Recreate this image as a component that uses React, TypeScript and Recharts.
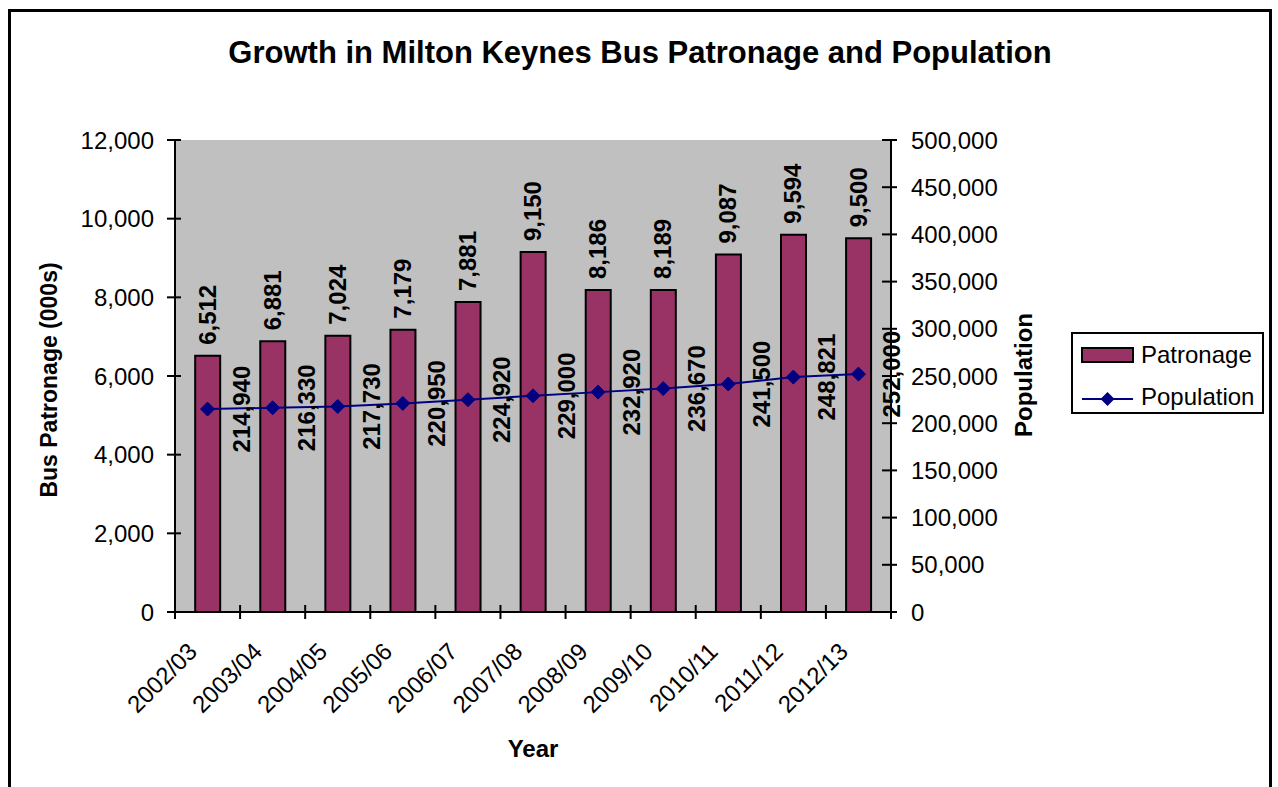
import {
  ComposedChart,
  Bar,
  Line,
  XAxis,
  YAxis,
  CartesianGrid,
  LabelList,
  Legend,
} from 'recharts'

const years = [
  '2002/03', '2003/04', '2004/05', '2005/06', '2006/07', '2007/08',
  '2008/09', '2009/10', '2010/11', '2011/12', '2012/13',
]
const patronage = [6512, 6881, 7024, 7179, 7881, 9150, 8186, 8189, 9087, 9594, 9500]
const population = [
  214940, 216330, 217730, 220950, 224920, 229000,
  232920, 236670, 241500, 248821, 252000,
]
const patronageTicks = [0, 2000, 4000, 6000, 8000, 10000, 12000]
const populationTicks = [
  0, 50000, 100000, 150000, 200000, 250000, 300000, 350000, 400000, 450000, 500000,
]

const chartData = years.map((year, i) => ({
  year,
  patronage: patronage[i],
  population: population[i],
}))

const FONT = '"Liberation Sans", Arial, Helvetica, sans-serif'
const BAR_COLOR = '#993366'
const LINE_COLOR = '#000080'
const fmt = (v: number) => v.toLocaleString('en-US')

// half a category width (plot 175..891, 11 categories)
const HALF_BAND = 716 / 22

const XTick = (props: any) => {
  const { x, y, payload, index } = props
  return (
    <g>
      <line x1={x - HALF_BAND} x2={x - HALF_BAND} y1={y - 15} y2={y - 1} stroke="#000" strokeWidth={2} />
      {index === years.length - 1 && (
        <line x1={x + HALF_BAND} x2={x + HALF_BAND} y1={y - 15} y2={y - 1} stroke="#000" strokeWidth={2} />
      )}
      <text
        transform={`translate(${x - 9}, ${y + 33}) rotate(-45)`}
        textAnchor="end"
        fontSize={24}
        fontFamily={FONT}
        fill="#000"
      >
        {payload.value}
      </text>
    </g>
  )
}

const LeftTick = (props: any) => {
  const { x, y, payload } = props
  return (
    <g>
      <line x1={x + 13} x2={x + 27} y1={y} y2={y} stroke="#000" strokeWidth={2} />
      <text x={x} y={y} dy="0.355em" textAnchor="end" fontSize={24} fontFamily={FONT} fill="#000">
        {fmt(payload.value)}
      </text>
    </g>
  )
}

const RightTick = (props: any) => {
  const { x, y, payload } = props
  return (
    <g>
      <line x1={x - 29} x2={x - 14} y1={y} y2={y} stroke="#000" strokeWidth={2} />
      <text x={x} y={y} dy="0.355em" textAnchor="start" fontSize={24} fontFamily={FONT} fill="#000">
        {fmt(payload.value)}
      </text>
    </g>
  )
}

const BarValueLabel = (props: any) => {
  const { x, y, width, value } = props
  return (
    <text
      transform={`translate(${x + width / 2 + 8}, ${y - 11}) rotate(-90)`}
      textAnchor="start"
      fontSize={24}
      fontWeight="bold"
      fontFamily={FONT}
      fill="#000"
    >
      {fmt(value)}
    </text>
  )
}

const LineValueLabel = (props: any) => {
  const { x, y, value } = props
  return (
    <text
      transform={`translate(${x + 42}, ${y}) rotate(-90)`}
      textAnchor="middle"
      fontSize={24}
      fontWeight="bold"
      fontFamily={FONT}
      fill="#000"
    >
      {fmt(value)}
    </text>
  )
}

const Diamond = (props: any) => {
  const { cx, cy, index } = props
  const s = 7
  return (
    <polygon
      key={`d-${index}`}
      points={`${cx},${cy - s} ${cx + s},${cy} ${cx},${cy + s} ${cx - s},${cy}`}
      fill={LINE_COLOR}
      stroke={LINE_COLOR}
    />
  )
}

const LegendBox = () => (
  <div
    style={{
      width: 193,
      height: 82,
      border: '2px solid #000',
      boxSizing: 'border-box',
      background: '#fff',
      position: 'relative',
    }}
  >
    <svg width={189} height={78} style={{ position: 'absolute', left: 0, top: 0 }}>
      <rect x={9} y={14} width={51} height={14} fill={BAR_COLOR} stroke="#000" strokeWidth={2} />
      <text x={68} y={29} fontSize={24} fontFamily={FONT} fill="#000">Patronage</text>
      <line x1={9} x2={60} y1={65} y2={65} stroke={LINE_COLOR} strokeWidth={2} />
      <polygon points="34.5,58 41.5,65 34.5,72 27.5,65" fill={LINE_COLOR} />
      <text x={68} y={71} fontSize={24} fontFamily={FONT} fill="#000">Population</text>
    </svg>
  </div>
)

export default function App() {
  return (
    <div style={{ position: 'relative', width: 1278, height: 787, overflow: 'hidden', background: '#fff' }}>
      <style>{'body { margin: 0; }'}</style>
      <div
        style={{
          position: 'absolute',
          left: 8,
          top: 9,
          width: 1264,
          height: 900,
          border: '3px solid #000',
          boxSizing: 'border-box',
        }}
      />
      <ComposedChart
        width={1278}
        height={787}
        data={chartData}
        margin={{ top: 140, right: 267, left: 85, bottom: 65 }}
        barCategoryGap="31%"
        style={{ position: 'absolute', left: 0, top: 0 }}
      >
        <CartesianGrid fill="#c0c0c0" stroke="none" horizontal={false} vertical={false} />
        <XAxis
          dataKey="year"
          height={110}
          interval={0}
          tickLine={false}
          tickSize={6}
          tickMargin={2}
          axisLine={{ stroke: '#000', strokeWidth: 2 }}
          tick={<XTick />}
        />
        <YAxis
          yAxisId="left"
          width={90}
          domain={[0, 12000]}
          ticks={patronageTicks}
          interval={0}
          tickLine={false}
          tickSize={6}
          tickMargin={15}
          axisLine={{ stroke: '#000', strokeWidth: 2 }}
          tick={<LeftTick />}
        />
        <YAxis
          yAxisId="right"
          orientation="right"
          width={120}
          domain={[0, 500000]}
          ticks={populationTicks}
          interval={0}
          tickLine={false}
          tickSize={6}
          tickMargin={14}
          axisLine={{ stroke: '#000', strokeWidth: 2 }}
          tick={<RightTick />}
        />
        <Legend
          layout="vertical"
          align="center"
          verticalAlign="middle"
          content={<LegendBox />}
          wrapperStyle={{ left: 1071, top: 332, width: 193, height: 82 }}
        />
        <Bar
          yAxisId="left"
          dataKey="patronage"
          name="Patronage"
          fill={BAR_COLOR}
          stroke="#000"
          strokeWidth={2}
          isAnimationActive={false}
        >
          <LabelList dataKey="patronage" content={<BarValueLabel />} />
        </Bar>
        <Line
          yAxisId="right"
          dataKey="population"
          name="Population"
          stroke={LINE_COLOR}
          strokeWidth={2}
          dot={<Diamond />}
          activeDot={false}
          isAnimationActive={false}
        >
          <LabelList dataKey="population" content={<LineValueLabel />} />
        </Line>
      </ComposedChart>
      <svg
        width={1278}
        height={787}
        style={{ position: 'absolute', left: 0, top: 0, pointerEvents: 'none' }}
      >
        <text x={640} y={63} textAnchor="middle" fontSize={31} fontWeight="bold" fontFamily={FONT} fill="#000">
          Growth in Milton Keynes Bus Patronage and Population
        </text>
        <text x={533} y={757} textAnchor="middle" fontSize={24} fontWeight="bold" fontFamily={FONT} fill="#000">
          Year
        </text>
        <text
          transform="translate(57, 380) rotate(-90)"
          textAnchor="middle"
          fontSize={23}
          fontWeight="bold"
          fontFamily={FONT}
          fill="#000"
        >
          Bus Patronage (000s)
        </text>
        <text
          transform="translate(1032, 375) rotate(-90)"
          textAnchor="middle"
          fontSize={24}
          fontWeight="bold"
          fontFamily={FONT}
          fill="#000"
        >
          Population
        </text>
      </svg>
    </div>
  )
}
